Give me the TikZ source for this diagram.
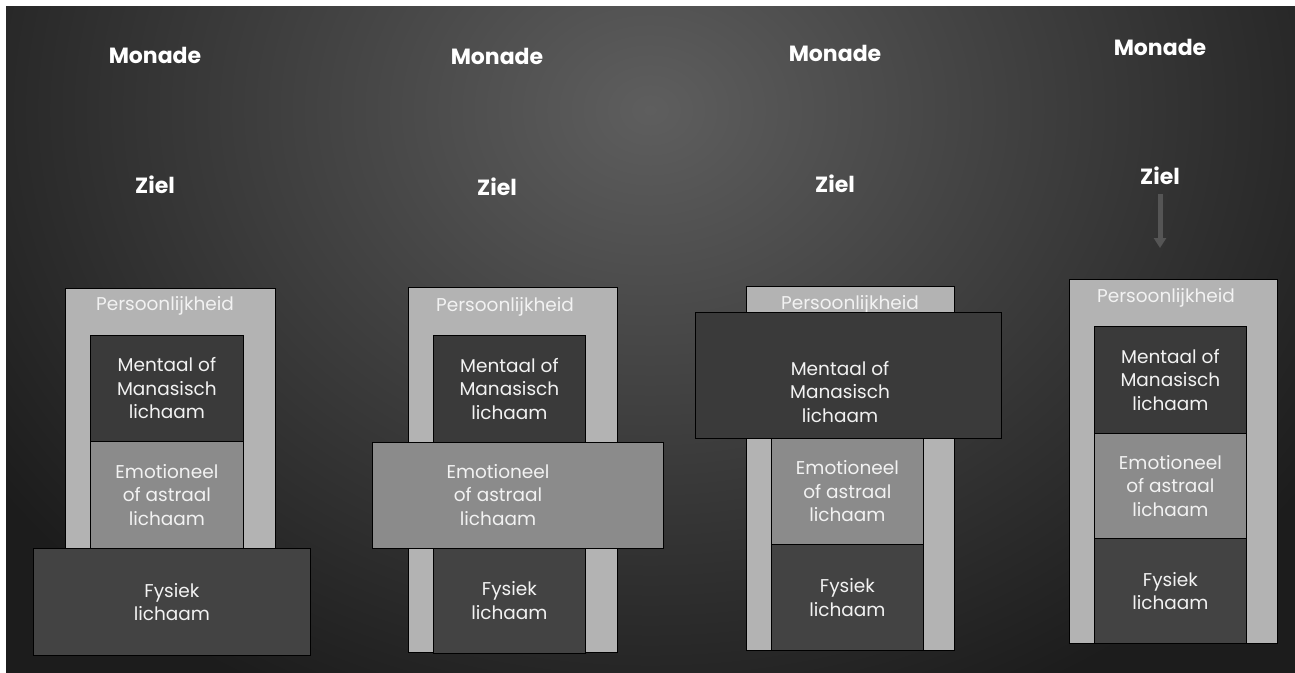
\documentclass[tikz,border=0pt]{standalone}
\usepackage{fontspec}
\setmainfont{Poppins}
\usetikzlibrary{arrows.meta,positioning}

\definecolor{bgdark}{HTML}{1C1C1C}
\definecolor{bglight}{HTML}{5E5E5E}
\definecolor{framegray}{HTML}{B3B3B3}
\definecolor{mentgray}{HTML}{3A3A3A}
\definecolor{emogray}{HTML}{8B8B8B}
\definecolor{fysgray}{HTML}{434343}
\definecolor{pijlgray}{HTML}{555555}
\definecolor{tekstwit}{HTML}{F2F2F2}

\tikzset{
  laag/.style={draw=black, line width=0.8pt, inner sep=0pt, anchor=north west,
    text=tekstwit, align=center, font=\fontsize{18.5}{23.5}\selectfont},
  kader/.style={laag, fill=framegray},
  mentaal/.style={laag, fill=mentgray},
  emotie/.style={laag, fill=emogray},
  fysiek/.style={laag, fill=fysgray},
  lagtekst/.style={text=tekstwit, align=center, inner sep=0pt, font=\fontsize{18.5}{23.5}\selectfont},
  perstekst/.style={text=tekstwit, inner sep=0pt, font=\fontsize{18.5}{23.5}\selectfont},
  kop/.style={text=white, inner sep=0pt, font=\fontsize{22}{26}\selectfont\bfseries}
}

\begin{document}
\begin{tikzpicture}[x=1pt, y=-1pt]
  \useasboundingbox (0,0) rectangle (1295,672);
  % achtergrond
  \fill[white] (-10,-10) rectangle (1310,690);
  \fill[bgdark] (6,6) rectangle (1310,690);
  \begin{scope}
    \clip (6,6) rectangle (1310,690);
    \shade[inner color=bglight, outer color=bgdark] (650,110) ellipse (800 and 660);
  \end{scope}

  % kolom 1
  \node[kop] (monade1) at (155,55) {Monade};
  \node[kop] (ziel1) at (155,185) {Ziel};
  \node[kader, minimum width=210pt, minimum height=300pt] (kader1) at (65,288) {};
  \node[perstekst] (pers1) at (165,306) {Persoonlijkheid};
  \node[mentaal, minimum width=153pt, minimum height=106pt] (ment1) at (90,335) {Mentaal of\\Manasisch\\lichaam};
  \node[emotie, minimum width=153pt, minimum height=107pt] (emo1) at (90,441) {Emotioneel\\of astraal\\lichaam};
  \node[fysiek, minimum width=277pt, minimum height=107pt] (fys1) at (33,548) {Fysiek\\lichaam};

  % kolom 2
  \node[kop] (monade2) at (497,56) {Monade};
  \node[kop] (ziel2) at (497,187) {Ziel};
  \node[kader, minimum width=209pt, minimum height=365pt] (kader2) at (408,287) {};
  \node[perstekst] (pers2) at (505,307) {Persoonlijkheid};
  \node[mentaal, minimum width=152pt, minimum height=107pt] (ment2) at (433,335) {Mentaal of\\Manasisch\\lichaam};
  \node[fysiek, minimum width=152pt, minimum height=106pt] (fys2) at (433,547) {Fysiek\\lichaam};
  \node[emotie, minimum width=291pt, minimum height=106pt] (emo2) at (372,442) {};
  \node[lagtekst] (emotekst2) at (498,495) {Emotioneel\\of astraal\\lichaam};

  % kolom 3
  \node[kop] (monade3) at (835,53) {Monade};
  \node[kop] (ziel3) at (835,184) {Ziel};
  \node[kader, minimum width=208pt, minimum height=364pt] (kader3) at (746,286) {};
  \node[perstekst] (pers3) at (850,305) {Persoonlijkheid};
  \node[emotie, minimum width=152pt, minimum height=106pt] (emo3) at (771,438) {Emotioneel\\of astraal\\lichaam};
  \node[fysiek, minimum width=152pt, minimum height=106pt] (fys3) at (771,544) {Fysiek\\lichaam};
  \node[mentaal, minimum width=306pt, minimum height=126pt] (ment3) at (695,312) {};
  \node[lagtekst] (menttekst3) at (840,392) {Mentaal of\\Manasisch\\lichaam};

  % kolom 4
  \node[kop] (monade4) at (1160,47) {Monade};
  \node[kop] (ziel4) at (1160,176) {Ziel};
  \coordinate (pijleind4) at (1160,248);
  \draw[pijlgray, line width=5pt, -{Triangle[width=12pt,length=10pt]}, shorten <=9pt] (ziel4) -- (pijleind4);
  \node[kader, minimum width=208pt, minimum height=364pt] (kader4) at (1069,279) {};
  \node[perstekst] (pers4) at (1166,298) {Persoonlijkheid};
  \node[mentaal, minimum width=152pt, minimum height=107pt] (ment4) at (1094,326) {Mentaal of\\Manasisch\\lichaam};
  \node[emotie, minimum width=152pt, minimum height=105pt] (emo4) at (1094,433) {Emotioneel\\of astraal\\lichaam};
  \node[fysiek, minimum width=152pt, minimum height=105pt] (fys4) at (1094,538) {Fysiek\\lichaam};
\end{tikzpicture}
\end{document}
